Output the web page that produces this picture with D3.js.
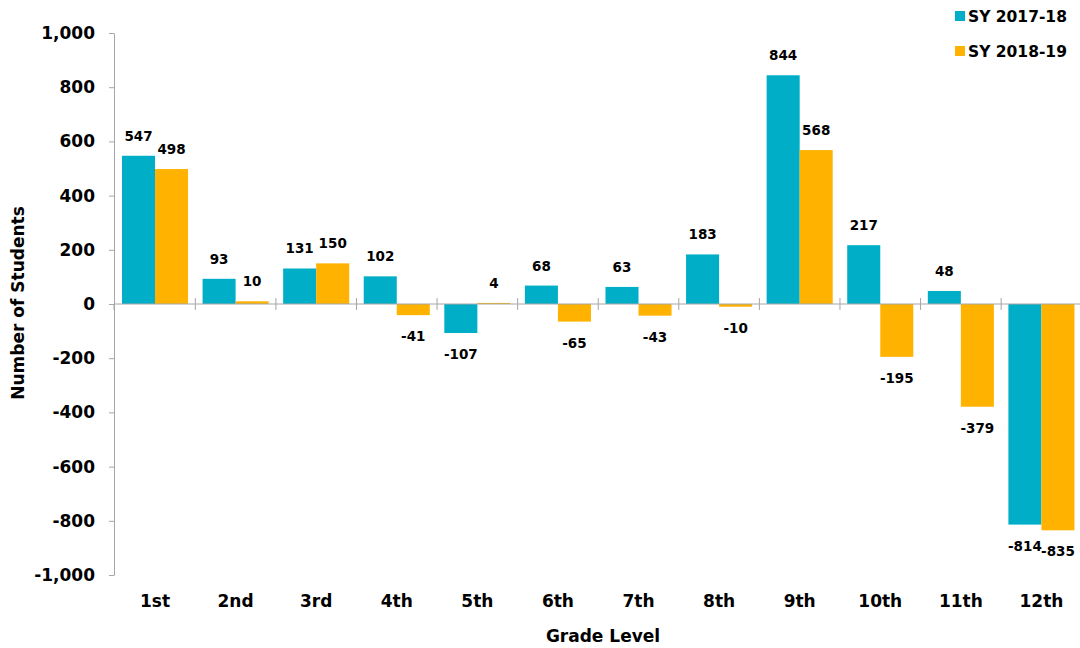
<!DOCTYPE html>
<html><head><meta charset="utf-8">
<script src="https://cdn.jsdelivr.net/npm/d3@7"></script>
<style>body{margin:0;background:#fff}svg{font-family:"DejaVu Sans",sans-serif;font-weight:bold}</style>
</head><body><svg id="c" width="1080" height="648"></svg>
<script>
const categories=["1st","2nd","3rd","4th","5th","6th","7th","8th","9th","10th","11th","12th"];
const seriesNames=["SY 2017-18","SY 2018-19"];
const sy1718=[547,93,131,102,-107,68,63,183,844,217,48,-814];
const sy1819=[498,10,150,-41,4,-65,-43,-10,568,-195,-379,-835];
const yTicks=[-1000,-800,-600,-400,-200,0,200,400,600,800,1000];
const colors=["#00AFC7","#FFB300"];

const svg=d3.select("#c");
const x=d3.scaleBand().domain(categories).range([114,1081]).paddingInner(0.18).paddingOuter(0.09).align(0.55);
const xs=d3.scaleBand().domain(seriesNames).range([0,x.bandwidth()]);
const y=d3.scaleLinear().domain([-1000,1000]).range([575,33]);
const fmt=d=>(d<0?"-":"")+d3.format(",")(Math.abs(d));

// y axis
const ya=svg.append("g").attr("transform","translate(114,0)")
 .call(d3.axisLeft(y).tickValues(yTicks).tickFormat(fmt).tickSize(5).tickSizeOuter(0));
ya.select(".domain").attr("stroke","#a6a6a6");
ya.selectAll(".tick line").attr("stroke","#a6a6a6");
ya.selectAll("text").attr("font-size",17).attr("font-weight","bold").attr("fill","#000").attr("x",-19).attr("font-family","DejaVu Sans, sans-serif");

// bars
const data=[sy1718,sy1819];
data.forEach((vals,si)=>{
 svg.append("g").selectAll("rect").data(vals).join("rect")
  .attr("x",(d,i)=>x(categories[i])+xs(seriesNames[si]))
  .attr("width",xs.bandwidth())
  .attr("y",d=>y(Math.max(0,d)))
  .attr("height",d=>Math.abs(y(d)-y(0)))
  .attr("fill",colors[si]);
 svg.append("g").selectAll("text").data(vals).join("text")
  .attr("x",(d,i)=>x(categories[i])+xs(seriesNames[si])+xs.bandwidth()/2)
  .attr("y",d=>d>=0?y(d)-15:y(d)+26)
  .attr("text-anchor","middle").attr("font-size",13.5).attr("fill","#000")
  .text(d=>d);
});

// x axis at zero
const xa=svg.append("g");
xa.append("line").attr("x1",114).attr("x2",1080).attr("y1",y(0)).attr("y2",y(0)).attr("stroke","#a6a6a6");
const bounds=categories.slice(1).map(c=>x(c)-x.step()*x.paddingInner()/2);
xa.selectAll("line.t").data(bounds).join("line").attr("class","t")
 .attr("x1",d=>d).attr("x2",d=>d).attr("y1",y(0)-6).attr("y2",y(0)+6).attr("stroke","#a6a6a6");
svg.append("line").attr("x1",114).attr("x2",114).attr("y1",y(0)).attr("y2",y(0)+6).attr("stroke","#a6a6a6");

// category labels
svg.append("g").selectAll("text").data(categories).join("text")
 .attr("x",d=>x(d)+x.bandwidth()/2).attr("y",607)
 .attr("text-anchor","middle").attr("font-size",17).text(d=>d);

// axis titles
svg.append("text").attr("x",603).attr("y",642).attr("text-anchor","middle").attr("font-size",17).text("Grade Level");
svg.append("text").attr("transform","translate(24,303) rotate(-90)").attr("text-anchor","middle").attr("font-size",17).text("Number of Students");

// legend
const lg=svg.append("g").selectAll("g").data(seriesNames).join("g")
 .attr("transform",(d,i)=>`translate(955,${17+i*35})`);
lg.append("rect").attr("x",0).attr("y",-6).attr("width",10).attr("height",10).attr("fill",(d,i)=>colors[i]);
lg.append("text").attr("x",13).attr("y",5).attr("font-size",15.5).text(d=>d);
</script></body></html>
